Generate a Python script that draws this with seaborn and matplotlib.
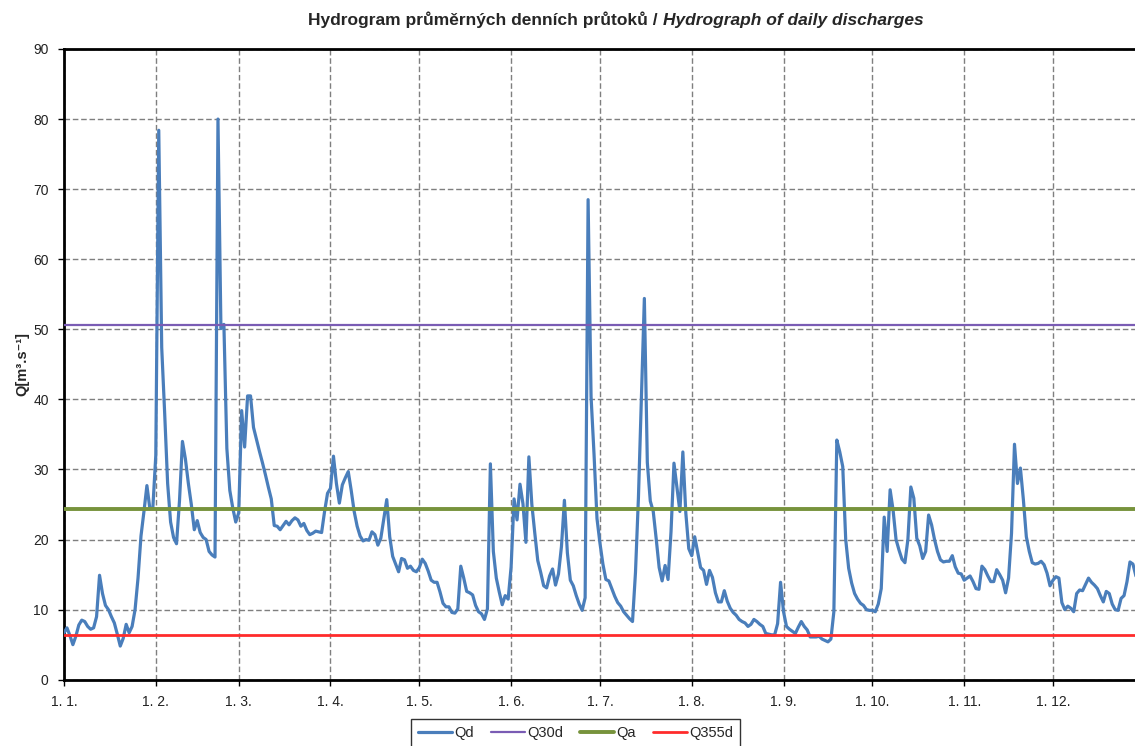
import matplotlib
matplotlib.use("Agg")
import pandas as pd
import matplotlib.pyplot as plt
import seaborn as sns

# Průměrné denní průtoky Qd [m3/s], den 0 = 1. 1.
qd = [
    6.7, 7.4, 6.3, 5.0, 6.2, 7.8, 8.5, 8.3, 7.6, 7.2,
    7.4, 9.0, 14.9, 12.3, 10.6, 10.0, 9.0, 8.1, 6.5, 4.8,
    5.9, 7.9, 6.7, 7.6, 10.0, 14.5, 20.5, 24.0, 27.7, 24.4,
    24.5, 32.0, 78.4, 47.4, 38.0, 28.0, 22.5, 20.3, 19.4, 25.5,
    34.0, 31.5, 28.0, 25.0, 21.4, 22.7, 21.0, 20.3, 20.0, 18.3,
    17.8, 17.5, 80.0, 50.1, 50.7, 33.0, 27.0, 24.5, 22.5, 23.8,
    38.4, 33.2, 40.5, 40.5, 36.0, 34.3, 32.6, 31.0, 29.3, 27.5,
    25.8, 22.0, 21.9, 21.4, 22.0, 22.6, 22.1, 22.7, 23.1, 22.8,
    21.9, 22.3, 21.3, 20.7, 20.9, 21.2, 21.1, 21.0, 24.0, 26.6,
    27.3, 31.9, 28.0, 25.2, 27.8, 28.8, 29.7, 27.0, 24.0, 21.9,
    20.5, 19.8, 20.0, 19.9, 21.1, 20.7, 19.2, 20.2, 23.0, 25.7,
    20.4, 17.6, 16.5, 15.4, 17.3, 17.1, 15.9, 16.2, 15.6, 15.4,
    16.0, 17.2, 16.6, 15.5, 14.2, 13.9, 13.9, 12.5, 10.9, 10.4,
    10.4, 9.6, 9.5, 10.1, 16.2, 14.5, 12.6, 12.4, 12.1, 10.6,
    9.7, 9.4, 8.6, 10.1, 30.8, 18.3, 14.5, 12.5, 10.7, 12.0,
    11.5, 16.1, 25.8, 22.8, 27.9, 25.1, 19.6, 31.8, 25.0, 20.9,
    17.0, 15.3, 13.4, 13.1, 14.8, 15.8, 13.5, 15.1, 19.0, 25.6,
    18.1, 14.2, 13.4, 12.0, 10.8, 9.9, 11.7, 68.5, 40.4, 32.2,
    23.0, 19.5, 16.5, 14.3, 14.1, 13.0, 11.9, 11.0, 10.5, 9.7,
    9.2, 8.7, 8.3, 15.3, 26.0, 40.0, 54.4, 31.0, 25.5, 24.0,
    20.1, 16.0, 14.1, 16.3, 14.3, 21.1, 30.9, 27.4, 24.0, 32.5,
    23.8, 18.7, 17.7, 20.4, 18.2, 16.0, 15.6, 13.6, 15.6, 14.6,
    12.4, 11.1, 11.1, 12.7, 11.2, 10.2, 9.6, 9.2, 8.6, 8.3,
    8.1, 7.6, 7.9, 8.6, 8.3, 7.9, 7.6, 6.6, 6.5, 6.4,
    6.4, 8.0, 13.9, 9.7, 7.6, 7.2, 6.9, 6.6, 7.5, 8.3,
    7.6, 7.1, 6.1, 6.1, 6.1, 6.2, 5.8, 5.6, 5.4, 5.8,
    9.7, 34.2, 32.5, 30.4, 20.0, 15.9, 13.8, 12.3, 11.5, 10.9,
    10.6, 10.0, 9.9, 9.9, 9.7, 10.8, 13.0, 23.2, 18.3, 27.1,
    24.2, 20.0, 18.5, 17.2, 16.7, 20.0, 27.5, 25.9, 20.2, 19.1,
    17.3, 18.3, 23.5, 22.1, 20.0, 18.3, 17.1, 16.8, 16.9, 16.9,
    17.7, 16.1, 15.2, 15.1, 14.2, 14.5, 14.8, 14.0, 13.0, 12.9,
    16.2, 15.7, 14.8, 14.0, 14.0, 15.7, 15.0, 14.2, 12.4, 14.5,
    20.9, 33.6, 28.0, 30.2, 25.7, 20.4, 18.3, 16.7, 16.5, 16.6,
    16.9, 16.4, 15.2, 13.4, 14.2, 14.7, 14.5, 11.0, 10.0, 10.5,
    10.2, 9.7, 12.3, 12.8, 12.7, 13.6, 14.5, 13.9, 13.5, 13.0,
    12.0, 11.1, 12.6, 12.3, 10.8, 10.0, 9.9, 11.6, 12.0, 14.0,
    16.8, 16.5, 14.8,
]

# charakteristické průtoky
q30d = 50.6
qa = 24.4
q355d = 6.4

# začátky měsíců (den v roce) a popisky
mesice_den = [0, 31, 59, 90, 120, 151, 181, 212, 243, 273, 304, 334]
mesice_popis = ["1. 1.", "1. 2.", "1. 3.", "1. 4.", "1. 5.", "1. 6.",
                "1. 7.", "1. 8.", "1. 9.", "1. 10.", "1. 11.", "1. 12."]
y_ticks = [0, 10, 20, 30, 40, 50, 60, 70, 80, 90]

df = pd.DataFrame({"den": range(len(qd)), "Qd": qd})

sns.set_style("white")
plt.rcParams["font.family"] = ["Liberation Sans", "DejaVu Sans"]

W, H = 1135, 746
fig = plt.figure(figsize=(W / 100, H / 100), dpi=100)
ax = fig.add_axes([64 / W, 66.3 / H, 1 - 64 / W, 630.7 / H])

sns.lineplot(data=df, x="den", y="Qd", ax=ax, color="#4a7ebb", lw=2.3,
             label="Qd", zorder=3)
ax.axhline(q30d, color="#7a5cb4", lw=1.6, label="Q30d", zorder=4)
ax.axhline(qa, color="#77933c", lw=2.8, label="Qa", zorder=4)
ax.axhline(q355d, color="#ff2b2b", lw=2.0, label="Q355d", zorder=4)

ax.set_xlim(0, 361.7)
ax.set_ylim(0, 90)
ax.set_xticks(mesice_den)
ax.set_xticklabels(mesice_popis)
ax.set_yticks(y_ticks)
ax.grid(True, color="#7f7f7f", lw=1.0, linestyle=(0, (4, 2)))
ax.set_axisbelow(True)

ax.tick_params(axis="both", direction="out", length=4, width=1,
               color="black", labelsize=10, labelcolor="#222222",
               bottom=True, left=True, pad=7)
for s in ["left", "bottom", "top"]:
    ax.spines[s].set_color("black")
    ax.spines[s].set_linewidth(2)
ax.spines["right"].set_visible(False)

ax.set_xlabel("")
ax.set_ylabel("Q[m³.s⁻¹]", fontsize=10.5, fontweight="bold", labelpad=3)

# titulek: česká část tučně, anglická tučně kurzívou, celek na středu ~616 px
t1 = fig.text(0, 1 - 25 / H, "Hydrogram průměrných denních průtoků / ",
              ha="left", va="baseline", fontsize=12.5, fontweight="bold")
t2 = fig.text(0, 1 - 25 / H, "Hydrograph of daily discharges",
              ha="left", va="baseline", fontsize=12.5, fontweight="bold",
              style="italic")
fig.canvas.draw()
r = fig.canvas.get_renderer()
w1 = t1.get_window_extent(r).width
w2 = t2.get_window_extent(r).width
x0 = 616 - (w1 + w2) / 2
t1.set_x(x0 / W)
t2.set_x((x0 + w1) / W)

ax.get_legend().remove()
handles, labels = ax.get_legend_handles_labels()
leg = fig.legend(handles, labels, loc="upper center", ncol=4,
                 bbox_to_anchor=(575.5 / W, 1 - 719 / H), fontsize=10.5,
                 frameon=True, fancybox=False, edgecolor="black",
                 handlelength=2.3, handletextpad=0.15, columnspacing=1.2,
                 borderpad=0.5, borderaxespad=0)
leg.get_frame().set_linewidth(1.0)

fig.savefig("out.png", dpi=100)
